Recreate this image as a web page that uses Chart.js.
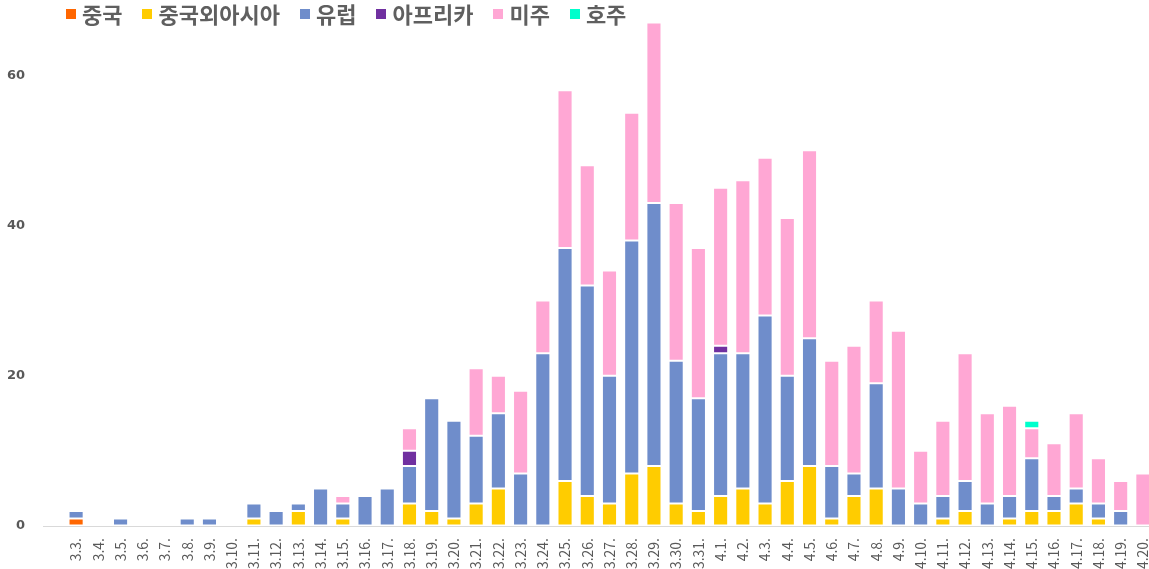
<!DOCTYPE html>
<html lang="ko">
<head>
<meta charset="utf-8">
<title>지역별 해외유입 확진자</title>
<script src="https://cdn.jsdelivr.net/npm/chart.js"></script>
<style>
    html, body { margin: 0; padding: 0; background: #fff; overflow: hidden; }
    #wrap { position: relative; width: 1154px; height: 569px; }
    #legend {
        position: absolute; left: 66px; top: 0px; display: flex; align-items: center;
        font-family: "Noto Sans CJK KR", sans-serif; font-size: 22px; font-weight: bold; color: #5f5f5f;
        line-height: 27px; z-index: 2;
    }
    #legend .item { display: flex; align-items: center; margin-right: 20px; }
    #legend .box { width: 10px; height: 10px; margin-right: 6px; }
</style>
</head>
<body>
<div id="wrap">
    <div id="legend"></div>
    <canvas id="regionChart"></canvas>
</div>
<script>
// categories (dates)
const dates = ['3.3.', '3.4.', '3.5.', '3.6.', '3.7.', '3.8.', '3.9.', '3.10.', '3.11.', '3.12.',
    '3.13.', '3.14.', '3.15.', '3.16.', '3.17.', '3.18.', '3.19.', '3.20.', '3.21.', '3.22.',
    '3.23.', '3.24.', '3.25.', '3.26.', '3.27.', '3.28.', '3.29.', '3.30.', '3.31.', '4.1.',
    '4.2.', '4.3.', '4.4.', '4.5.', '4.6.', '4.7.', '4.8.', '4.9.', '4.10.', '4.11.',
    '4.12.', '4.13.', '4.14.', '4.15.', '4.16.', '4.17.', '4.18.', '4.19.', '4.20.'];

// series values
const china     = [1, 0, 0, 0, 0, 0, 0, 0, 0, 0, 0, 0, 0, 0, 0, 0, 0, 0, 0, 0, 0, 0, 0, 0, 0, 0, 0, 0, 0, 0, 0, 0, 0, 0, 0, 0, 0, 0, 0, 0, 0, 0, 0, 0, 0, 0, 0, 0, 0];
const asia      = [0, 0, 0, 0, 0, 0, 0, 0, 1, 0, 2, 0, 1, 0, 0, 3, 2, 1, 3, 5, 0, 0, 6, 4, 3, 7, 8, 3, 2, 4, 5, 3, 6, 8, 1, 4, 5, 0, 0, 1, 2, 0, 1, 2, 2, 3, 1, 0, 0];
const europe    = [1, 0, 1, 0, 0, 1, 1, 0, 2, 2, 1, 5, 2, 4, 5, 5, 15, 13, 9, 10, 7, 23, 31, 28, 17, 31, 35, 19, 15, 19, 18, 25, 14, 17, 7, 3, 14, 5, 3, 3, 4, 3, 3, 7, 2, 2, 2, 2, 0];
const africa    = [0, 0, 0, 0, 0, 0, 0, 0, 0, 0, 0, 0, 0, 0, 0, 2, 0, 0, 0, 0, 0, 0, 0, 0, 0, 0, 0, 0, 0, 1, 0, 0, 0, 0, 0, 0, 0, 0, 0, 0, 0, 0, 0, 0, 0, 0, 0, 0, 0];
const america   = [0, 0, 0, 0, 0, 0, 0, 0, 0, 0, 0, 0, 1, 0, 0, 3, 0, 0, 9, 5, 11, 7, 21, 16, 14, 17, 24, 21, 20, 21, 23, 21, 21, 25, 14, 17, 11, 21, 7, 10, 17, 12, 12, 4, 7, 10, 6, 4, 7];
const australia = [0, 0, 0, 0, 0, 0, 0, 0, 0, 0, 0, 0, 0, 0, 0, 0, 0, 0, 0, 0, 0, 0, 0, 0, 0, 0, 0, 0, 0, 0, 0, 0, 0, 0, 0, 0, 0, 0, 0, 0, 0, 0, 0, 1, 0, 0, 0, 0, 0];

const seriesNames = ['중국', '중국외아시아', '유럽', '아프리카', '미주', '호주'];
const seriesData = [china, asia, europe, africa, america, australia];
const seriesColors = ['#FF6600', '#FFCC00', '#6F8DCB', '#7030A0', '#FFA7D4', '#00FFCC'];

// y axis ticks shown
const yTicks = [0, 20, 40, 60];

const textGray = '#595959';

// legend (html, sits over the plot like the original)
const legendEl = document.getElementById('legend');
legendEl.innerHTML = seriesNames.map((n, i) => `
    <div class="item"><span class="box" style="background:${seriesColors[i]}"></span>${n}</div>
`).join('');

const ctx = document.getElementById('regionChart').getContext('2d');
const regionChart = new Chart(ctx, {
    type: 'bar',
    data: {
        labels: dates,
        datasets: seriesNames.map((n, i) => ({
            label: n,
            data: seriesData[i],
            backgroundColor: seriesColors[i],
            borderColor: 'rgba(255,255,255,0.55)',
            borderWidth: 1,
            borderSkipped: false,
            barPercentage: 0.68,
            categoryPercentage: 1
        }))
    },
    options: {
        responsive: true,
        maintainAspectRatio: false,
        animation: false,
        layout: { padding: 0 },
        plugins: {
            legend: { display: false },
            tooltip: { enabled: false }
        },
        scales: {
            x: {
                stacked: true,
                grid: { display: false },
                border: { display: false },
                ticks: {
                    color: textGray,
                    minRotation: 90,
                    maxRotation: 90,
                    autoSkip: false,
                    padding: 4,
                    font: { family: '"Noto Sans CJK KR", sans-serif', size: 14 }
                },
                afterFit: axis => {
                    axis.height = 43;
                    axis.paddingLeft = 0;
                    axis.paddingRight = 0;
                }
            },
            y: {
                stacked: true,
                min: 0,
                max: 70,
                // only the zero line, stretched left past the plot like the original baseline
                grid: {
                    drawOnChartArea: true,
                    drawTicks: true,
                    tickLength: 22,
                    color: c => (c.tick && c.tick.value === 0 ? '#D9D9D9' : 'rgba(0,0,0,0)')
                },
                border: { display: false },
                afterBuildTicks: axis => { axis.ticks = yTicks.map(v => ({ value: v })); },
                ticks: {
                    color: textGray,
                    padding: 18,
                    font: { family: '"DejaVu Sans", sans-serif', size: 13, weight: 'bold' }
                },
                afterFit: axis => {
                    axis.width = 65;
                    axis.paddingTop = 0;
                    axis.paddingBottom = 0;
                }
            }
        }
    }
});
</script>
</body>
</html>
